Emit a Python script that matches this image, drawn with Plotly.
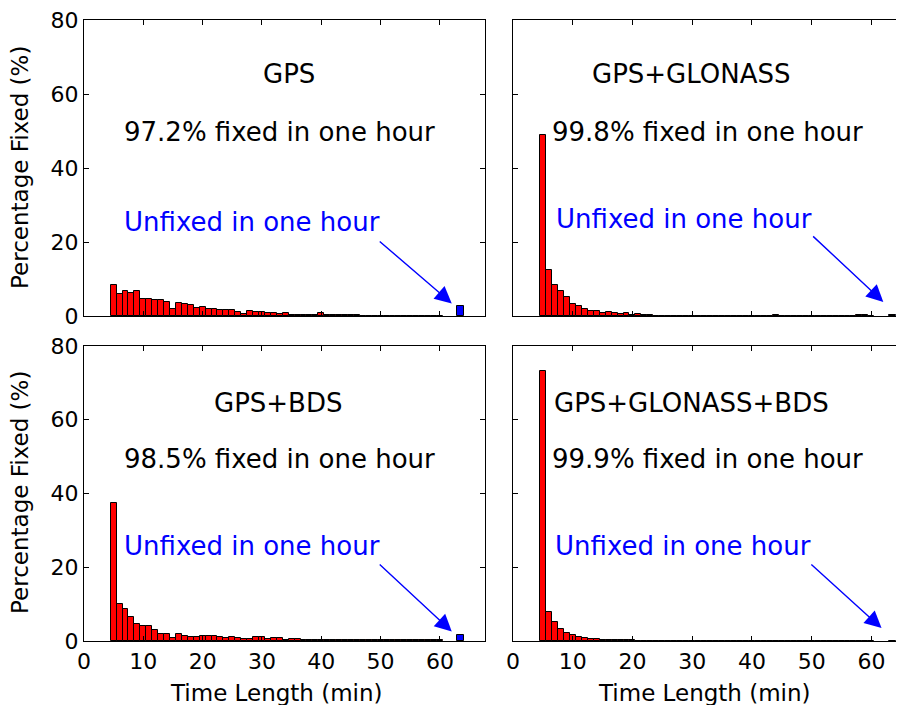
import plotly.graph_objects as go

# ---------------- data ----------------
time_min = list(range(5, 61))

gps = [8.3, 5.9, 6.8, 6.2, 6.8, 4.7, 4.7, 4.4, 4.4, 3.9,
       1.8, 3.6, 3.3, 3.1, 2.2, 2.4, 1.9, 1.9, 1.5, 1.5,
       1.5, 1.2, 0.6, 1.3, 1.0, 1.0, 0.7, 0.7, 0.45, 0.8,
       0.4, 0.2, 0.4, 0.4, 0.2, 0.9, 0.4, 0.2, 0.4, 0.4,
       0.4, 0.4, 0.1, 0.1, 0.1, 0.1, 0.1, 0.05, 0.1, 0.1,
       0.05, 0.1, 0.1, 0.05, 0.1, 0.1]

gps_glo = [49.0, 12.4, 8.5, 6.7, 5.1, 3.2, 2.8, 2.0, 1.35, 1.35,
           0.8, 1.1, 0.8, 0.45, 0.8, 0.4, 0.5, 0.3, 0.3, 0.1,
           0.1, 0.05, 0.05, 0.05, 0.05, 0.05, 0.05, 0.05, 0.05, 0.05,
           0.05, 0.05, 0.05, 0.05, 0.05, 0.05, 0.05, 0.05, 0.05, 0.2,
           0.05, 0.05, 0.05, 0.05, 0.05, 0.05, 0.05, 0.05, 0.05, 0.05,
           0.05, 0.05, 0.05, 0.2, 0.2, 0.05]

gps_bds = [37.5, 10.1, 8.6, 6.4, 4.7, 4.1, 4.1, 3.1, 1.9, 1.9,
           0.8, 2.0, 1.45, 1.1, 1.1, 1.45, 1.3, 1.3, 1.0, 0.8,
           1.0, 0.8, 0.6, 0.6, 1.0, 1.0, 0.5, 0.7, 0.7, 0.3,
           0.6, 0.6, 0.3, 0.2, 0.3, 0.2, 0.2, 0.3, 0.3, 0.2,
           0.3, 0.3, 0.3, 0.3, 0.2, 0.2, 0.3, 0.3, 0.2, 0.2,
           0.3, 0.2, 0.3, 0.4, 0.4, 0.4]

gps_glo_bds = [73.2, 7.9, 5.1, 3.3, 2.3, 1.5, 1.2, 0.8, 0.5, 0.5,
               0.3, 0.2, 0.3, 0.2, 0.3, 0.3, 0.1, 0.1, 0.1, 0.1,
               0.1, 0.1, 0.05, 0.05, 0.05, 0.05, 0.05, 0.05, 0.05, 0.05,
               0.05, 0.05, 0.05, 0.05, 0.05, 0.05, 0.05, 0.05, 0.05, 0.05,
               0.05, 0.05, 0.05, 0.05, 0.05, 0.05, 0.05, 0.05, 0.05, 0.05,
               0.05, 0.05, 0.05, 0.05, 0.05, 0.05]

unfixed_x = [63.5]
unfixed = [2.8, 0.2, 1.5, 0.1]

titles = ["GPS", "GPS+GLONASS", "GPS+BDS", "GPS+GLONASS+BDS"]
fixed_text = ["97.2% fixed in one hour", "99.8% fixed in one hour",
              "98.5% fixed in one hour", "99.9% fixed in one hour"]
unfixed_text = "Unfixed in one hour"
x_ticks = [0, 10, 20, 30, 40, 50, 60]
y_ticks = [0, 20, 40, 60, 80]
x_title = "Time Length (min)"
y_title = "Percentage Fixed (%)"

series = [gps, gps_glo, gps_bds, gps_glo_bds]

# ---------------- figure ----------------
FONT = "DejaVu Sans"
W, H = 904, 705
OFF = 8  # page body margin


def px_x(p):
    return (p - OFF) / W


def px_y(p):
    return 1 - (p - OFF) / H


fig = go.Figure()

x_dom = [[px_x(84), px_x(485)], [px_x(513), 1.0]]
y_dom = [[px_y(316), px_y(20)], [px_y(641), px_y(346)]]
x_rng = [[0, 67.6], [0, 66.8]]

title_pos = [(34.6, 65.4), (29.8, 65.4), (32.7, 64.5), (29.8, 64.5)]
fixed_pos = [(32.9, 49.7), (32.6, 49.7), (32.9, 49.3), (32.6, 49.3)]
unf_pos = [(28.3, 25.4), (28.6, 26.2), (28.3, 25.7), (28.4, 25.7)]
arrow_tail = [(49.6, 20.5), (50.0, 21.9), (49.6, 21.1), (49.7, 21.1)]
arrow_head = [(62.0, 3.4), (62.0, 3.8), (62.0, 2.6), (61.7, 3.5)]

annotations = []
for i in range(4):
    row, col = divmod(i, 2)
    n = i + 1
    xa = "x" if n == 1 else f"x{n}"
    ya = "y" if n == 1 else f"y{n}"
    fig.add_trace(go.Bar(x=time_min, y=series[i], width=1,
                         marker=dict(color="#ff0000", line=dict(color="black", width=1)),
                         xaxis=xa, yaxis=ya, showlegend=False))
    fig.add_trace(go.Bar(x=unfixed_x, y=[unfixed[i]], width=1.1,
                         marker=dict(color="#0000ff", line=dict(color="black", width=1)),
                         xaxis=xa, yaxis=ya, showlegend=False))
    xkey = "xaxis" if n == 1 else f"xaxis{n}"
    ykey = "yaxis" if n == 1 else f"yaxis{n}"
    fig.layout[xkey] = dict(
        domain=x_dom[col], range=x_rng[col], anchor=ya,
        tickvals=x_ticks, ticks="inside", ticklen=5, tickcolor="black",
        showline=True, linecolor="black", linewidth=1.2, mirror="ticks",
        showgrid=False, zeroline=False, showticklabels=(row == 1),
        tickfont=dict(family=FONT, size=22, color="black"),
        ticklabeloverflow="allow",
        automargin=False,
    )
    fig.layout[ykey] = dict(
        domain=y_dom[row], range=[0, 80], anchor=xa,
        tickvals=y_ticks, ticks="inside", ticklen=5, tickcolor="black",
        showline=True, linecolor="black", linewidth=1.2,
        mirror=("ticks" if col == 0 else False),
        showgrid=False, zeroline=False, showticklabels=(col == 0),
        tickfont=dict(family=FONT, size=22, color="black"),
        ticklabeloverflow="allow",
        automargin=False,
    )
    annotations.append(dict(x=title_pos[i][0], y=title_pos[i][1], xref=xa, yref=ya,
                            text=titles[i], showarrow=False,
                            font=dict(family=FONT, size=26, color="black")))
    annotations.append(dict(x=fixed_pos[i][0], y=fixed_pos[i][1], xref=xa, yref=ya,
                            text=fixed_text[i], showarrow=False,
                            font=dict(family=FONT, size=26, color="black")))
    annotations.append(dict(x=unf_pos[i][0], y=unf_pos[i][1], xref=xa, yref=ya,
                            text=unfixed_text, showarrow=False,
                            font=dict(family=FONT, size=26, color="#0000ff")))
    annotations.append(dict(x=arrow_head[i][0], y=arrow_head[i][1], xref=xa, yref=ya,
                            ax=arrow_tail[i][0], ay=arrow_tail[i][1], axref=xa, ayref=ya,
                            text="", showarrow=True, arrowhead=2, arrowsize=2.4,
                            arrowwidth=1.4, arrowcolor="#0000ff"))

# axis titles as paper annotations
for cy in (168, 493):
    annotations.append(dict(x=px_x(20), y=px_y(cy), xref="paper", yref="paper",
                            text=y_title, textangle=-90, showarrow=False,
                            xanchor="center", yanchor="middle",
                            font=dict(family=FONT, size=23, color="black")))
for cx in (276, 704):
    annotations.append(dict(x=px_x(cx), y=px_y(693), xref="paper", yref="paper",
                            text=x_title, showarrow=False,
                            xanchor="center", yanchor="middle",
                            font=dict(family=FONT, size=23, color="black")))

fig.update_layout(
    width=W, height=H,
    margin=dict(l=0, r=0, t=0, b=0),
    paper_bgcolor="white", plot_bgcolor="white",
    barmode="overlay", bargap=0,
    annotations=annotations,
    font=dict(family=FONT, color="black"),
)

fig.write_html("out.html")
